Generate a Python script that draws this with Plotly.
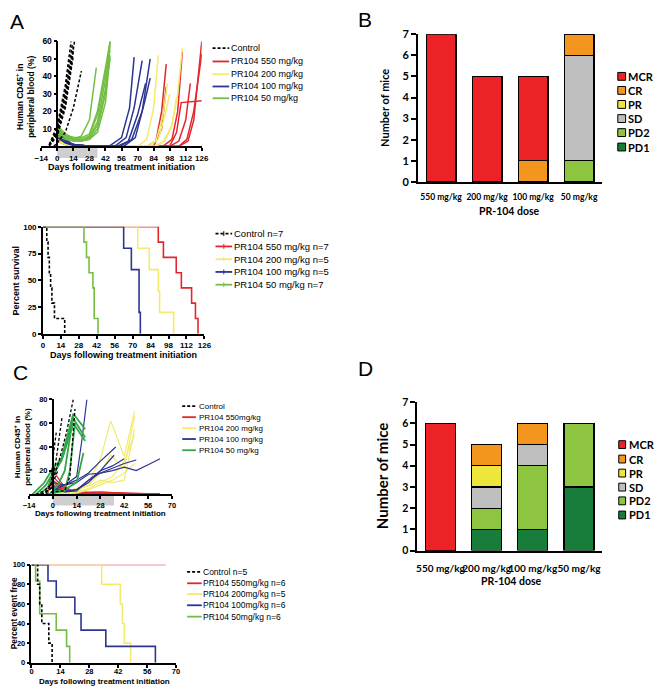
import plotly.graph_objects as go

W, H = 661, 693


def X(p):
    return p / W


def Y(p):
    return 1 - p / H


ARIAL = "Liberation Sans, Arial, sans-serif"
CAL = "Lato, Open Sans, sans-serif"

RED = "#E4262C"
YEL = "#F2EB6C"
BLU = "#2B3592"
GRN = "#74BE45"
CGRN = "#33A64A"
BLK = "#000000"

# ---------------- Panel A (top): human CD45+ in blood ----------------
A_CTRL_DAYS = [[-7, 0, 7, 12], [-7, 0, 7, 13], [-7, 0, 7, 14], [-7, 0, 7, 14],
               [-7, 0, 7, 15], [-7, 0, 7, 14], [-3, 0, 7, 14, 21]]
A_CTRL_PCT = [[1, 12, 35, 60], [1, 10, 32, 58], [0.5, 9, 30, 57], [0.5, 8, 27, 55],
              [0.5, 7, 24, 60], [0.3, 6, 22, 52], [0, 2, 8, 22, 43]]
A_550_DAYS = [[0, 7, 14, 28, 78, 86, 91, 95], [0, 7, 14, 28, 84, 91, 95],
              [0, 7, 14, 28, 92, 100, 105, 109], [0, 7, 14, 28, 98, 106, 112, 116],
              [0, 7, 14, 28, 106, 114, 119, 123, 126], [0, 7, 14, 28, 106, 113, 119, 126],
              [0, 7, 14, 28, 98, 104, 108, 126]]
A_550_PCT = [[6, 2, 1, 0, 0, 3, 20, 47], [4, 1, 0.5, 0, 0, 10, 34],
             [5, 2, 1, 0, 0, 4, 20, 54], [3, 1, 0.5, 0, 0, 3, 15, 36],
             [5, 2, 1, 0, 0, 3, 15, 40, 60], [4, 1, 0.5, 0, 0, 4, 20, 53],
             [6, 2, 1, 0, 0, 8, 25, 26]]
A_200_DAYS = [[0, 7, 14, 28, 70, 78, 84, 88], [0, 7, 14, 28, 78, 86, 92, 96],
              [0, 7, 14, 28, 84, 93, 100, 105, 109], [0, 7, 14, 28, 80, 88, 94, 98],
              [0, 7, 14, 28, 86, 94, 100, 104]]
A_200_PCT = [[6, 2, 1, 0, 0, 4, 22, 52], [4, 1, 0.5, 0, 0, 3, 17, 36],
             [5, 2, 1, 0, 0, 3, 12, 30, 56], [3, 1, 0.5, 0, 0, 4, 18, 30],
             [4, 1, 0.5, 0, 0, 3, 12, 28]]
A_100_DAYS = [[0, 7, 14, 28, 45, 56, 63, 67], [0, 7, 14, 28, 50, 60, 67, 74],
              [0, 7, 14, 28, 55, 65, 74, 81], [0, 7, 14, 28, 58, 68, 76, 81],
              [0, 7, 14, 28, 52, 62, 70, 77]]
A_100_PCT = [[10, 4, 1, 0, 0, 5, 22, 51], [6, 2, 1, 0, 0, 5, 22, 49],
             [8, 3, 1, 0, 0, 4, 20, 50], [5, 2, 0.5, 0, 0, 5, 25, 39],
             [7, 3, 1, 0, 0, 3, 18, 36]]
A_50_DAYS = [[0, 7, 14, 21, 28, 35, 42, 46], [0, 7, 14, 21, 28, 35, 42, 46],
             [0, 7, 14, 21, 28, 35, 42, 46], [0, 7, 14, 21, 28, 35, 42, 46],
             [0, 7, 14, 21, 28, 35, 42, 46], [0, 7, 14, 21, 28, 34],
             [0, 7, 14, 21, 28, 35, 42, 46]]
A_50_PCT = [[12, 7, 4, 3, 4, 10, 30, 60], [8, 5, 3, 3, 5, 14, 38, 58],
            [10, 6, 4, 4, 6, 18, 42, 55], [6, 4, 3, 3, 4, 8, 25, 52],
            [9, 6, 5, 5, 7, 20, 45, 60], [7, 5, 4, 6, 15, 45],
            [11, 7, 5, 4, 5, 12, 33, 50]]
A_LEGEND = ["Control", "PR104 550 mg/kg", "PR104 200 mg/kg", "PR104 100 mg/kg", "PR104 50 mg/kg"]

# ---------------- Panel A (bottom): survival ----------------
SA_CTRL_D = [0, 3, 4, 5, 6, 7, 9, 17]
SA_CTRL_V = [100, 85.7, 71.4, 57.1, 42.9, 28.6, 14.3, 0]
SA_550_D = [0, 90, 94, 104, 108, 116, 119, 121]
SA_550_V = [100, 85.7, 71.4, 57.1, 42.9, 28.6, 14.3, 0]
SA_200_D = [0, 74, 83, 90, 91, 102]
SA_200_V = [100, 80, 60, 40, 20, 0]
SA_100_D = [0, 63, 69, 75, 76]
SA_100_V = [100, 80, 60, 20, 0]
SA_50_D = [0, 32, 34, 36, 39, 40, 43]
SA_50_V = [100, 85.7, 71.4, 57.1, 42.9, 14.3, 0]
SA_LEGEND = ["Control n=7", "PR104 550 mg/kg n=7", "PR104 200 mg/kg n=5",
             "PR104 100 mg/kg n=5", "PR104 50 mg/kg n=7"]

# ---------------- Panel C (top) ----------------
C_CTRL_DAYS = [[-4, 0, 4, 8, 12], [-7, -1, 2, 5.5], [-7, -1, 0, 2], [-7, 0, 7, 10, 13], [-10, -5, 0, 3]]
C_CTRL_PCT = [[1, 12, 30, 52, 80], [0, 5, 30, 66], [0, 5, 30, 52], [0, 2, 3, 15, 72], [0, 3, 10, 20]]
C_550_DAYS = [[-3, 0, 7, 14, 28, 42, 56, 63], [-3, 0, 7, 14, 28, 42, 56, 63],
              [-3, 0, 7, 14, 28, 42, 56], [0, 7, 14, 28, 42, 56, 63],
              [0, 7, 14, 28, 42, 56, 63], [0, 7, 14, 28, 42, 56]]
C_550_PCT = [[5, 20, 6, 2, 1, 0.5, 0.5, 0.5], [3, 12, 4, 1, 2, 1, 0.5, 0.5],
             [2, 8, 3, 1, 1, 0.5, 0.5], [15, 5, 2, 2, 1, 1, 0.5],
             [10, 3, 1, 0.5, 0.5, 0.5, 0.5], [6, 2, 1, 1, 0.5, 0.5]]
C_200_DAYS = [[0, 7, 14, 21, 28, 34, 42, 48], [0, 7, 14, 21, 28, 34, 42, 48],
              [0, 7, 14, 21, 28, 35, 42, 48], [0, 7, 14, 21, 28, 35, 42, 48],
              [0, 7, 14, 21, 28, 35, 42, 48]]
C_200_PCT = [[3, 1, 2, 10, 30, 62, 32, 70], [2, 1, 3, 8, 18, 33, 22, 66],
             [1, 0.5, 2, 5, 10, 15, 28, 50], [2, 1, 1, 4, 8, 12, 18, 26],
             [4, 2, 5, 7, 12, 10, 12, 55]]
C_100_DAYS = [[0, 7, 14, 17, 20], [0, 7, 14, 21, 28, 37], [0, 7, 14, 21, 28, 36],
              [0, 7, 14, 21, 28, 35, 42, 49], [0, 7, 14, 21, 28, 35, 42, 49, 56, 63],
              [7, 14, 21, 28, 35, 42]]
C_100_PCT = [[6, 8, 15, 45, 80], [10, 8, 12, 18, 28, 40], [5, 3, 4, 10, 20, 33],
             [4, 2, 4, 12, 18, 22, 26, 29], [3, 8, 10, 17, 18, 20, 23, 20, 25, 30],
             [2, 3, 12, 20, 24, 30]]
C_50_DAYS = [[-12, -5, 0, 5, 12, 19], [-10, -4, 0, 5, 12, 19], [-8, -3, 0, 6, 12, 19],
             [-2, 3, 7, 12], [0, 7, 10, 13], [0, 7, 14, 18]]
C_50_PCT = [[0, 10, 22, 30, 68, 55], [0, 8, 18, 28, 64, 48], [0, 6, 15, 32, 60, 45],
            [0, 8, 20, 66], [1, 3, 20, 60], [2, 4, 10, 35]]
C_LEGEND = ["Control", "PR104 550mg/kg", "PR104 200 mg/kg", "PR104 100 mg/kg", "PR104 50 mg/kg"]

# ---------------- Panel C (bottom): event free ----------------
SC_CTRL_D = [0, 3, 4, 5, 8.4, 10]
SC_CTRL_V = [100, 80, 60, 40, 20, 0]
SC_550_D = [0, 65]
SC_550_V = [100, 100]
SC_200_D = [0, 34, 43, 44, 45, 48]
SC_200_V = [100, 80, 60, 40, 20, 0]
SC_100_D = [0, 8, 12, 21, 24, 36, 60]
SC_100_V = [100, 83.3, 66.7, 50, 33.3, 16.7, 0]
SC_50_D = [0, 2, 4, 12, 17, 18.5]
SC_50_V = [100, 83.3, 50, 33.3, 16.7, 0]
SC_LEGEND = ["Control n=5", "PR104 550mg/kg n=6", "PR104 200mg/kg n=5",
             "PR104 100mg/kg n=6", "PR104 50mg/kg n=6"]

# ---------------- Panels B and D: response bars ----------------
DOSES = ["550 mg/kg", "200 mg/kg", "100 mg/kg", "50 mg/kg"]
RESP = ["PD1", "PD2", "SD", "PR", "CR", "MCR"]  # bottom -> top
RESP_COLORS = ["#187C3A", "#8DC440", "#BEBEBE", "#EDE73B", "#F3961F", "#EC2227"]
B_COUNTS = {
    "PD1": [0, 0, 0, 0], "PD2": [0, 0, 0, 1], "SD": [0, 0, 0, 5],
    "PR": [0, 0, 0, 0], "CR": [0, 0, 1, 1], "MCR": [7, 5, 4, 0],
}
D_COUNTS = {
    "PD1": [0, 1, 1, 3], "PD2": [0, 1, 3, 3], "SD": [0, 1, 1, 0],
    "PR": [0, 1, 0, 0], "CR": [0, 1, 1, 0], "MCR": [6, 0, 0, 0],
}

fig = go.Figure()


def add_lines(days_list, vals_list, color, xa, ya, width=1.5, dash=None):
    for d, v in zip(days_list, vals_list):
        fig.add_trace(go.Scatter(x=d, y=v, mode="lines", xaxis=xa, yaxis=ya,
                                 line=dict(color=color, width=width, dash=dash),
                                 showlegend=False, hoverinfo="skip"))


def add_km(d, v, color, xa, ya, width=1.6, dash=None):
    fig.add_trace(go.Scatter(x=d + [d[-1]], y=v + [v[-1]], mode="lines", xaxis=xa, yaxis=ya,
                             line=dict(color=color, width=width, dash=dash, shape="hv"),
                             cliponaxis=False, showlegend=False, hoverinfo="skip"))


DASH = "3px,2px"

# Panel A top
add_lines(A_550_DAYS, A_550_PCT, RED, "x", "y")
add_lines(A_200_DAYS, A_200_PCT, YEL, "x", "y")
add_lines(A_100_DAYS, A_100_PCT, BLU, "x", "y")
add_lines(A_50_DAYS, A_50_PCT, GRN, "x", "y")
add_lines(A_CTRL_DAYS, A_CTRL_PCT, BLK, "x", "y", width=1.5, dash=DASH)

# Panel A bottom
add_km(SA_550_D, SA_550_V, RED, "x2", "y2")
add_km(SA_200_D, SA_200_V, YEL, "x2", "y2")
add_km(SA_100_D, SA_100_V, BLU, "x2", "y2")
add_km(SA_50_D, SA_50_V, GRN, "x2", "y2")
add_km(SA_CTRL_D, SA_CTRL_V, BLK, "x2", "y2", dash=DASH)

# Panel C top
add_lines(C_550_DAYS, C_550_PCT, RED, "x3", "y3", width=1.2)
add_lines(C_200_DAYS, C_200_PCT, YEL, "x3", "y3", width=1.2)
add_lines(C_100_DAYS, C_100_PCT, BLU, "x3", "y3", width=1.2)
add_lines(C_50_DAYS, C_50_PCT, CGRN, "x3", "y3", width=1.8)
add_lines(C_CTRL_DAYS, C_CTRL_PCT, BLK, "x3", "y3", width=1.3, dash=DASH)

# Panel C bottom
add_km(SC_550_D, SC_550_V, RED, "x4", "y4", width=1.2)
add_km(SC_200_D, SC_200_V, YEL, "x4", "y4")
add_km(SC_100_D, SC_100_V, BLU, "x4", "y4")
add_km(SC_50_D, SC_50_V, GRN, "x4", "y4")
add_km(SC_CTRL_D, SC_CTRL_V, BLK, "x4", "y4", dash=DASH)

# Bars
for counts, xa, ya in [(B_COUNTS, "x5", "y5"), (D_COUNTS, "x6", "y6")]:
    for r, c in zip(RESP, RESP_COLORS):
        fig.add_trace(go.Bar(x=DOSES, y=counts[r], name=r, marker=dict(color=c, line=dict(color=BLK, width=1.2)),
                             width=0.65, xaxis=xa, yaxis=ya, showlegend=False, hoverinfo="skip"))

# ---------- axes ----------
def lax(domain, rng, tickvals, size, **kw):
    d = dict(domain=domain, range=rng, tickvals=tickvals, showline=True, linecolor=BLK, linewidth=1.5,
             ticks="outside", ticklen=3, tickwidth=1.5, tickcolor=BLK, showgrid=False, zeroline=False,
             tickfont=dict(family=ARIAL, size=size, color=BLK, weight="bold"))
    d.update(kw)
    return d


def bax_x(domain, size, standoff):
    return dict(domain=domain, type="category", categoryorder="array", categoryarray=DOSES,
                range=[-0.5, 3.5], showline=True, linecolor=BLK, linewidth=2, ticks="",
                showgrid=False, zeroline=False, ticklabelstandoff=standoff, tickangle=0,
                tickfont=dict(family=CAL, size=size, color=BLK, weight="bold"))


def bax_y(domain, size):
    return dict(domain=domain, range=[0, 7], dtick=1, showline=True, linecolor=BLK, linewidth=2,
                ticks="outside", ticklen=5, tickwidth=2, tickcolor=BLK, showgrid=False, zeroline=False,
                tickfont=dict(family=CAL, size=size, color=BLK, weight="bold"))


layout = dict(
    width=W, height=H, margin=dict(l=0, r=0, t=0, b=0), paper_bgcolor="white", plot_bgcolor="white",
    barmode="stack", showlegend=False,
    xaxis=lax([X(35), X(199)], [-14, 126], list(range(-14, 127, 14)), 8, anchor="y"),
    yaxis=lax([Y(142), Y(35)], [0, 60], list(range(10, 61, 10)), 8.5, anchor="free", position=X(51.4)),
    xaxis2=lax([X(36.7), X(201.7)], [0, 126], list(range(0, 127, 14)), 8, anchor="y2"),
    yaxis2=lax([Y(333), Y(224)], [0, 100], [0, 25, 50, 75, 100], 8, anchor="x2"),
    xaxis3=lax([X(22.5), X(168.5)], [-14, 70], list(range(-14, 71, 14)), 7.5, anchor="y3"),
    yaxis3=lax([Y(496.7), Y(400)], [0, 80], [20, 40, 60, 80], 7.5, anchor="free", position=X(46.8)),
    xaxis4=lax([X(25), X(172.7)], [0, 70], list(range(0, 71, 14)), 7.5, anchor="y4",
               ticklabelstandoff=-3),
    yaxis4=lax([Y(668.3), Y(568.3)], [0, 100], [0, 20, 40, 60, 80, 100], 7.5, anchor="x4"),
    xaxis5=dict(bax_x([X(420), X(608)], 8.5, 6), anchor="y5"),
    yaxis5=dict(bax_y([Y(178.3), Y(27.7)], 11), anchor="x5"),
    xaxis6=dict(bax_x([X(419.3), X(608)], 10, 7), anchor="y6"),
    yaxis6=dict(bax_y([Y(554), Y(402.7)], 10.5), anchor="x6"),
)
fig.update_layout(**layout)

shapes = []
annotations = []

# treatment bands under x axes
shapes.append(dict(type="rect", xref="x", yref="paper", x0=0, x1=35, y0=Y(154), y1=Y(143),
                   fillcolor="#CFCFCF", line=dict(width=0), layer="below"))
shapes.append(dict(type="rect", xref="x3", yref="paper", x0=0, x1=36, y0=Y(508), y1=Y(498),
                   fillcolor="#CFCFCF", line=dict(width=0), layer="below"))


def txt(x, y, text, size, family=ARIAL, angle=0, xanchor="center", bold=False):
    t = "<b>%s</b>" % text if bold else text
    annotations.append(dict(x=X(x), y=Y(y), xref="paper", yref="paper", text=t, showarrow=False,
                            xanchor=xanchor, yanchor="middle", textangle=angle,
                            font=dict(family=family, size=size, color=BLK)))


def line_legend(labels, colors, dashes, ys, x0, x1, xt, size, tick=False):
    for lab, c, dsh, yy in zip(labels, colors, dashes, ys):
        shapes.append(dict(type="line", xref="paper", yref="paper", x0=X(x0), x1=X(x1), y0=Y(yy), y1=Y(yy),
                           line=dict(color=c, width=1.8, dash=dsh)))
        if tick:
            xm = (x0 + x1) / 2
            shapes.append(dict(type="line", xref="paper", yref="paper", x0=X(xm), x1=X(xm),
                               y0=Y(yy - 2.5), y1=Y(yy + 2.5), line=dict(color=c, width=1)))
        txt(xt, yy, lab, size, xanchor="left")


def box_legend(ys, xs0, xs1, xt, size):
    for r, c, yy in zip(RESP[::-1], RESP_COLORS[::-1], ys):
        shapes.append(dict(type="rect", xref="paper", yref="paper", x0=X(xs0), x1=X(xs1),
                           y0=Y(yy + 4), y1=Y(yy - 4), fillcolor=c, line=dict(color=BLK, width=1)))
        txt(xt, yy, r, size, family=CAL, xanchor="left", bold=True)


LCOL_A = [BLK, RED, YEL, BLU, GRN]
LCOL_C = [BLK, RED, YEL, BLU, CGRN]
DSH = [DASH, "solid", "solid", "solid", "solid"]
line_legend(A_LEGEND, LCOL_A, DSH, [42, 55.5, 68.5, 81, 93], 210, 227, 227, 9)
line_legend(SA_LEGEND, LCOL_A, DSH, [231, 244, 257, 270, 283], 213, 230, 230, 9.5, tick=True)
line_legend(C_LEGEND, LCOL_C, DSH, [406.7, 418, 429.3, 440.3, 451.7], 179, 193, 194, 8)
line_legend(SC_LEGEND, [BLK, RED, YEL, BLU, GRN], DSH, [575.7, 587.3, 598.3, 609.7, 621.3], 184, 199, 198.5, 8.5)
box_legend([70.7, 85, 99.3, 113.7, 128, 142.7], 624, 632, 632.5, 11)
box_legend([446, 460.7, 475, 489.3, 503.3, 517.7], 625, 632, 633, 11)

# axis titles
DAYS = "Days following treatment initiation"
txt(117, 163, DAYS, 9, bold=True)
txt(19, 92, "Human CD45<sup>+</sup> in<br>peripheral blood (%)", 8.5, angle=-90, bold=True)
txt(119.5, 354.3, DAYS, 9, bold=True)
txt(9, 279, "Percent survival", 9, angle=-90, bold=True)
txt(96, 515.7, DAYS, 8, bold=True)
txt(15.5, 448, "Human CD45<sup>+</sup> in<br>peripheral blood (%)", 8, angle=-90, bold=True)
txt(99.7, 687, DAYS, 8, bold=True)
txt(8, 618, "Percent event free", 8.3, angle=-90, bold=True)
txt(513, 207.5, "PR-104 dose", 10.5, family=CAL, bold=True)
txt(385, 103, "Number of mice", 11, family=CAL, angle=-90, bold=True)
txt(515.5, 584.5, "PR-104 dose", 10.5, family=CAL, bold=True)
txt(383.3, 478, "Number of mice", 15, family=CAL, angle=-90, bold=True)

# panel letters
txt(10, 15, "A", 21)
txt(365.5, 13, "B", 21)
txt(14, 372, "C", 21)
txt(366.5, 368.5, "D", 21)

fig.update_layout(shapes=shapes, annotations=annotations)
fig.write_html("out.html", config={"displayModeBar": False},
               post_script="document.body.style.margin='0px';")
